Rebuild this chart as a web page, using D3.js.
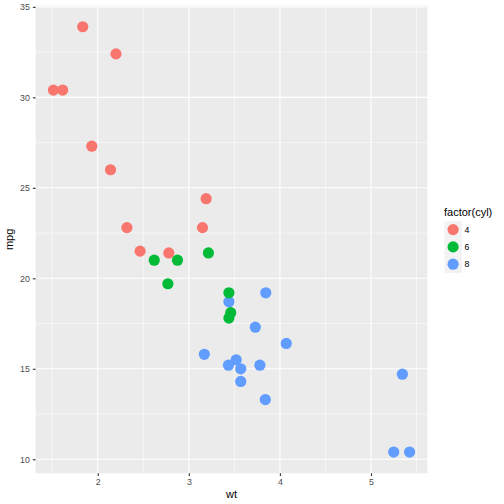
<!DOCTYPE html>
<html>
<head>
<meta charset="utf-8">
<script src="https://cdn.jsdelivr.net/npm/d3@7"></script>
<style>
  body { margin: 0; background: #fff; }
  text { font-family: "Liberation Sans", Arial, sans-serif; }
</style>
</head>
<body>
<svg id="chart" width="504" height="504"></svg>
<script>
// mtcars: wt, mpg, cyl
var wt  = [2.620, 2.875, 2.320, 3.215, 3.440, 3.460, 3.570, 3.190, 3.150, 3.440, 3.440, 4.070, 3.730, 3.780, 5.250, 5.424,
           5.345, 2.200, 1.615, 1.835, 2.465, 3.520, 3.435, 3.840, 3.845, 1.935, 2.140, 1.513, 3.170, 2.770, 3.570, 2.780]
var mpg = [21.0, 21.0, 22.8, 21.4, 18.7, 18.1, 14.3, 24.4, 22.8, 19.2, 17.8, 16.4, 17.3, 15.2, 10.4, 10.4,
           14.7, 32.4, 30.4, 33.9, 21.5, 15.5, 15.2, 13.3, 19.2, 27.3, 26.0, 30.4, 15.8, 19.7, 15.0, 21.4]
var cyl = [6, 6, 4, 6, 8, 6, 8, 4, 4, 6, 6, 8, 8, 8, 8, 8,
           8, 4, 4, 4, 4, 8, 8, 8, 8, 4, 4, 4, 8, 6, 8, 4]
var cylLevels = ["4", "6", "8"]
var cylColors = ["#F8766D", "#00BA38", "#619CFF"]
var xTicks = [2, 3, 4, 5]
var yTicks = [10, 15, 20, 25, 30, 35]
var xMinor = [1.5, 2.5, 3.5, 4.5, 5.5]
var yMinor = [12.5, 17.5, 22.5, 27.5, 32.5]

var svg = d3.select("#chart")
var pLeft = 35.6, pRight = 427.4, pTop = 5.5, pBottom = 473.3

var xr = d3.extent(wt), yr = d3.extent(mpg)
var xpad = (xr[1]-xr[0])*0.05, ypad = (yr[1]-yr[0])*0.05
var x = d3.scaleLinear().domain([xr[0]-xpad, xr[1]+xpad]).range([pLeft, pRight])
var y = d3.scaleLinear().domain([yr[0]-ypad, yr[1]+ypad]).range([pBottom, pTop])
var color = d3.scaleOrdinal().domain(cylLevels).range(cylColors)

svg.append("rect").attr("x", pLeft).attr("y", pTop).attr("width", pRight-pLeft).attr("height", pBottom-pTop).attr("fill", "#EBEBEB")

var g = svg.append("g")
g.selectAll(".xminor").data(xMinor).enter().append("line")
  .attr("x1", d => x(d)).attr("x2", d => x(d)).attr("y1", pTop).attr("y2", pBottom)
  .attr("stroke", "#fff").attr("stroke-width", 0.55)
g.selectAll(".yminor").data(yMinor).enter().append("line")
  .attr("y1", d => y(d)).attr("y2", d => y(d)).attr("x1", pLeft).attr("x2", pRight)
  .attr("stroke", "#fff").attr("stroke-width", 0.55)
g.selectAll(".xmajor").data(xTicks).enter().append("line")
  .attr("x1", d => x(d)).attr("x2", d => x(d)).attr("y1", pTop).attr("y2", pBottom)
  .attr("stroke", "#fff").attr("stroke-width", 1.1)
g.selectAll(".ymajor").data(yTicks).enter().append("line")
  .attr("y1", d => y(d)).attr("y2", d => y(d)).attr("x1", pLeft).attr("x2", pRight)
  .attr("stroke", "#fff").attr("stroke-width", 1.1)

// axes
var xAxis = svg.append("g").attr("transform", "translate(0," + pBottom + ")")
  .call(d3.axisBottom(x).tickValues(xTicks).tickSize(2.75).tickPadding(3).tickFormat(d3.format("d")))
var yAxis = svg.append("g").attr("transform", "translate(" + pLeft + ",0)")
  .call(d3.axisLeft(y).tickValues(yTicks).tickSize(2.75).tickPadding(3).tickFormat(d3.format("d")))
;[xAxis, yAxis].forEach(function(a) {
  a.select(".domain").remove()
  a.selectAll(".tick line").attr("stroke", "#333333").attr("stroke-width", 1.1)
  a.selectAll(".tick text").attr("fill", "#4D4D4D").style("font-size", "8.8px")
})

// points
var idx = d3.range(wt.length)
svg.append("g").selectAll("circle").data(idx).enter().append("circle")
  .attr("cx", i => x(wt[i])).attr("cy", i => y(mpg[i])).attr("r", 5.6)
  .attr("fill", i => color(String(cyl[i])))

// axis titles
svg.append("text").text("wt").attr("x", (pLeft+pRight)/2).attr("y", 498)
  .attr("text-anchor", "middle").style("font-size", "11px").attr("fill", "#000")
svg.append("text").text("mpg").attr("transform", "translate(13," + ((pTop+pBottom)/2) + ") rotate(-90)")
  .attr("text-anchor", "middle").style("font-size", "11px").attr("fill", "#000")

// legend
var lg = svg.append("g").attr("transform", "translate(444,0)")
lg.append("text").text("factor(cyl)").attr("x", 0).attr("y", 216).style("font-size", "11px").attr("fill", "#000")
var items = lg.selectAll(".key").data(cylLevels).enter().append("g")
  .attr("transform", (d, i) => "translate(0," + (221 + i*17.3) + ")")
items.append("rect").attr("x", 0.5).attr("y", 0).attr("width", 17.3).attr("height", 17.3).attr("fill", "#F2F2F2")
items.append("circle").attr("cx", 9.1).attr("cy", 8.6).attr("r", 5.6).attr("fill", d => color(d))
items.append("text").text(d => d).attr("x", 20.5).attr("y", 11.8).style("font-size", "8.8px").attr("fill", "#000")
</script>
</body>
</html>
